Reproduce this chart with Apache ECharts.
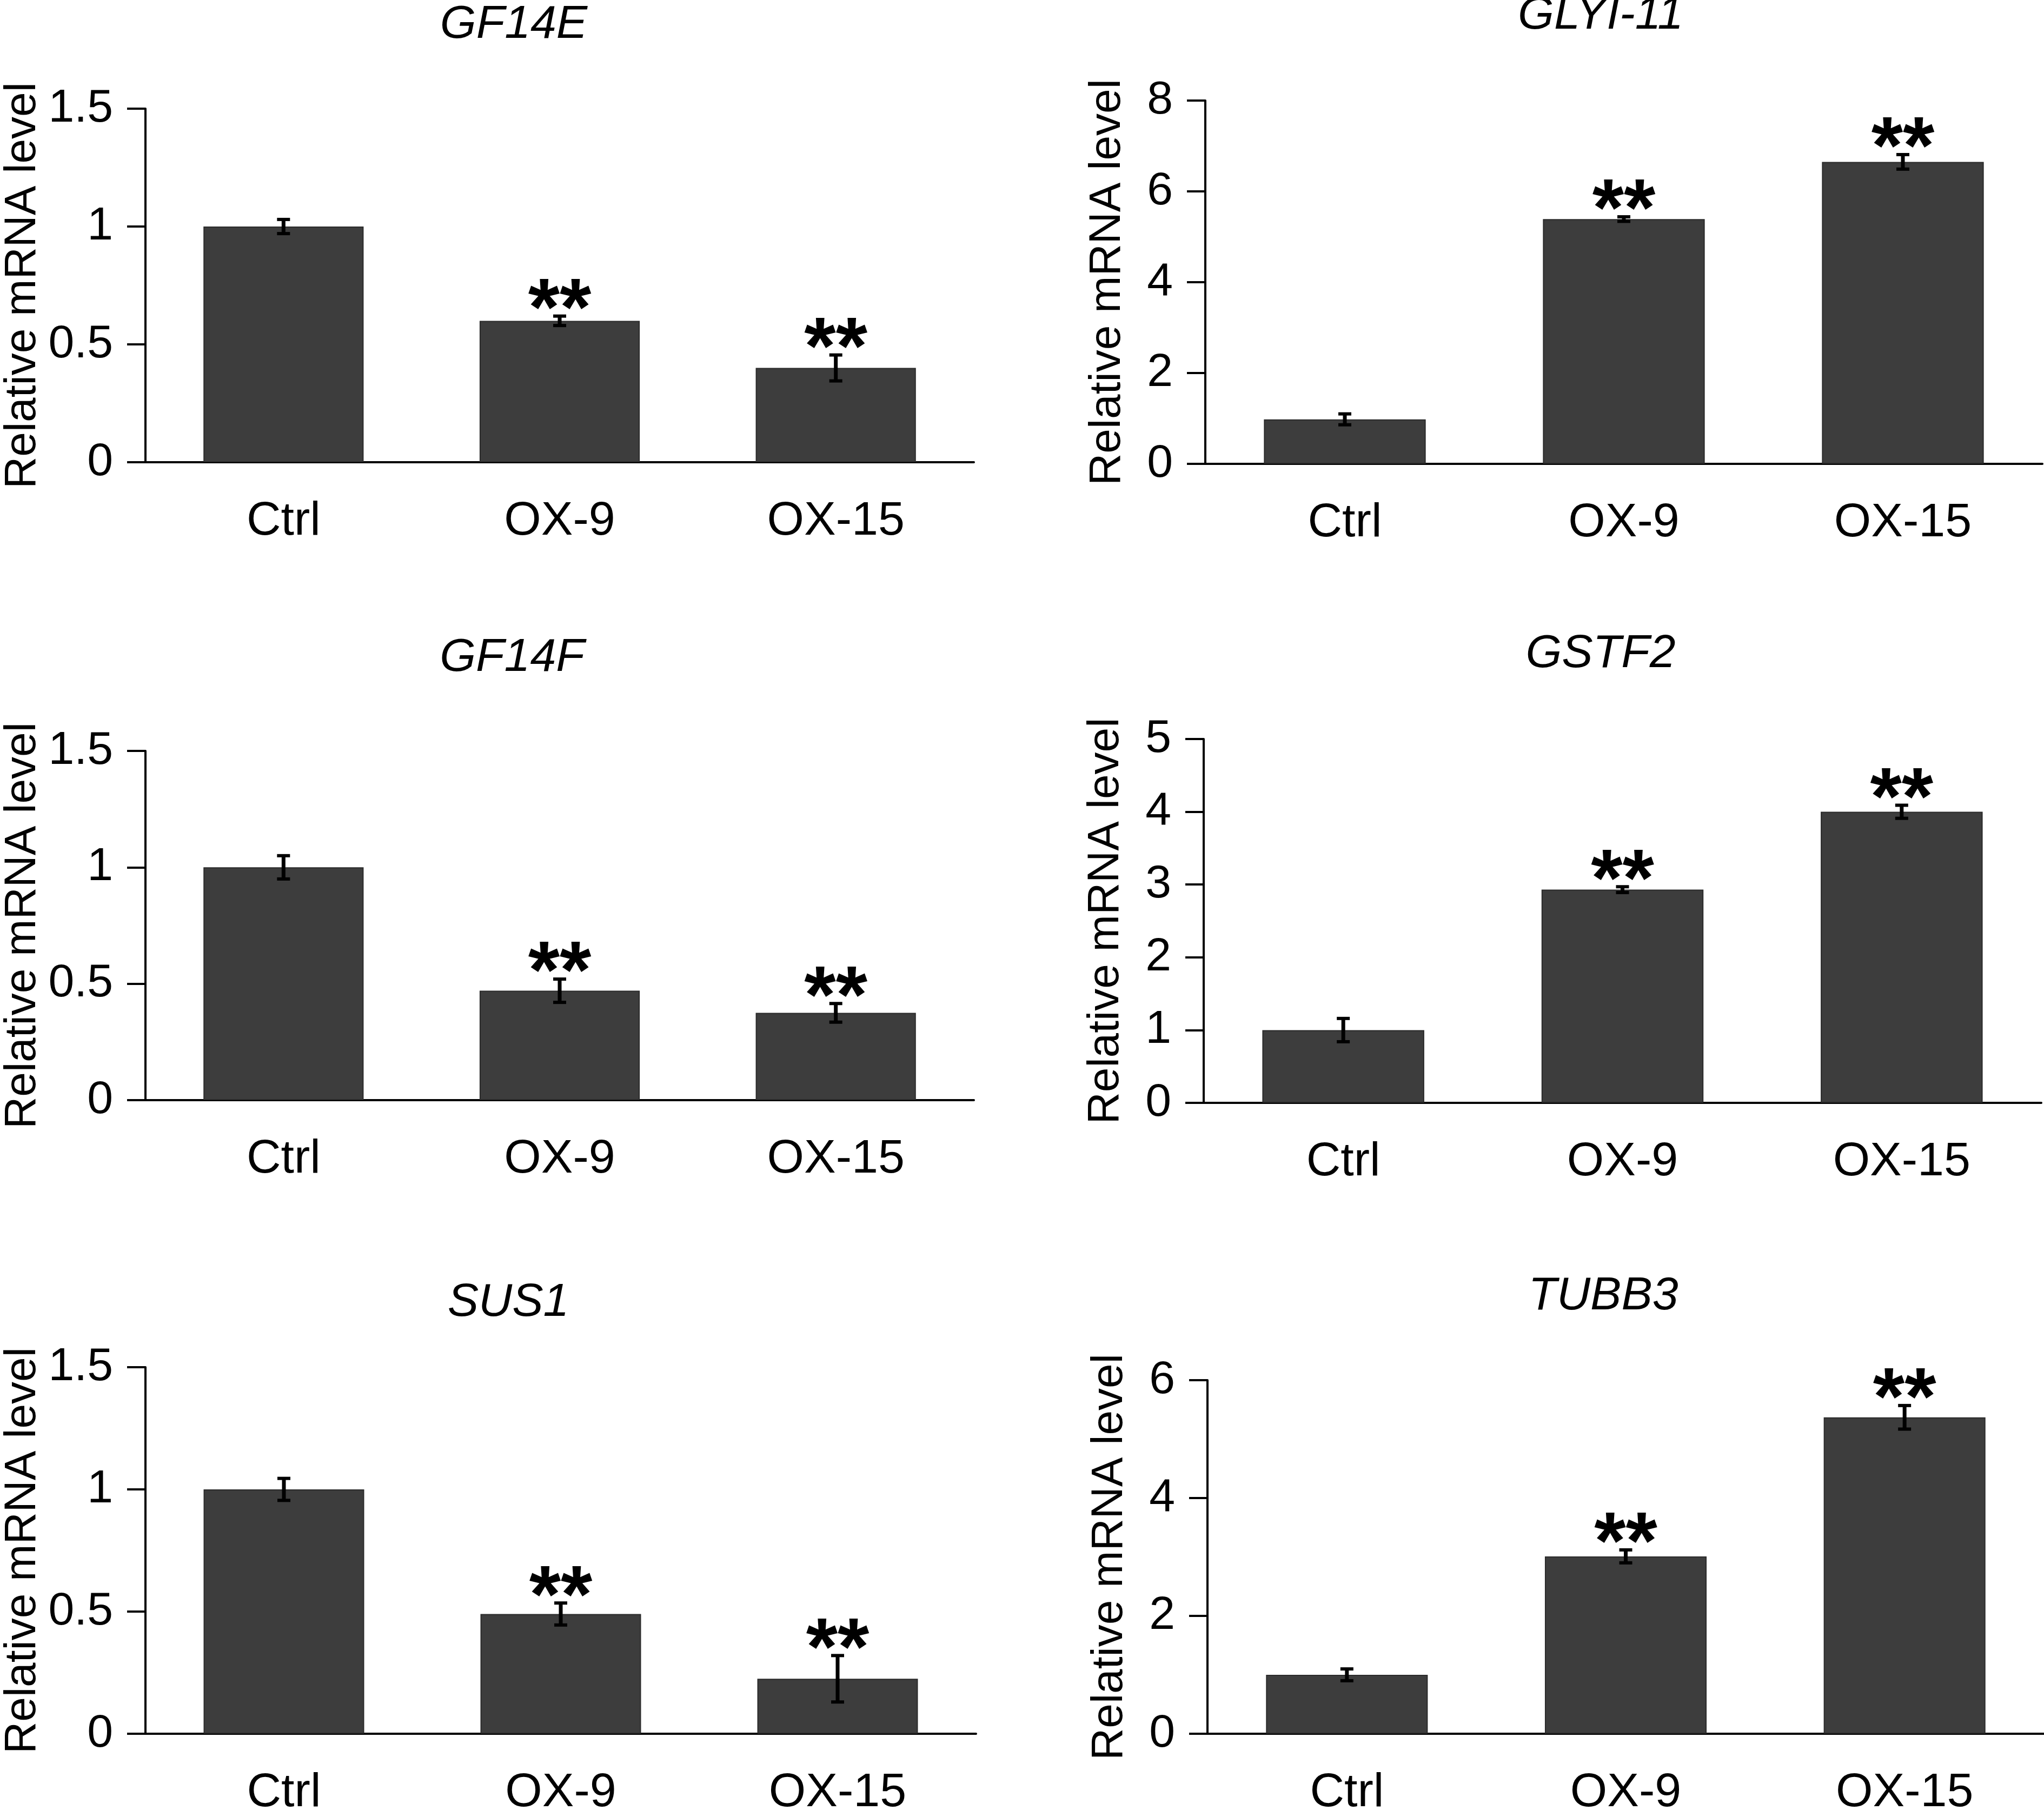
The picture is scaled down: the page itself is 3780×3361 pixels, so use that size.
<!DOCTYPE html>
<html>
<head>
<meta charset="utf-8">
<script src="https://cdn.jsdelivr.net/npm/echarts@6/dist/echarts.min.js"></script>
<style>
  html, body { margin: 0; padding: 0; background: #fff; }
  #main { width: 3780px; height: 3361px; }
</style>
</head>
<body>
<div id="main"></div>
<script>
// data
var categories = ['Ctrl', 'OX-9', 'OX-15'];
var genes = ['GF14E', 'GLYI-11', 'GF14F', 'GSTF2', 'SUS1', 'TUBB3'];
var marks = ['', '**', '**'];

var gf14eMean = [1.0, 0.60, 0.40];
var gf14eErr = [0.03, 0.02, 0.055];
var glyiMean = [0.98, 5.39, 6.65];
var glyiErr = [0.12, 0.05, 0.16];
var gf14fMean = [1.0, 0.47, 0.375];
var gf14fErr = [0.05, 0.05, 0.04];
var gstf2Mean = [1.0, 2.93, 4.0];
var gstf2Err = [0.16, 0.04, 0.09];
var sus1Mean = [1.0, 0.49, 0.225];
var sus1Err = [0.045, 0.045, 0.095];
var tubb3Mean = [1.0, 3.01, 5.37];
var tubb3Err = [0.1, 0.11, 0.2];

var yMax = [1.5, 8, 1.5, 5, 1.5, 6];
var yStep = [0.5, 2, 0.5, 1, 0.5, 2];

var means = [gf14eMean, glyiMean, gf14fMean, gstf2Mean, sus1Mean, tubb3Mean];
var errs = [gf14eErr, glyiErr, gf14fErr, gstf2Err, sus1Err, tubb3Err];

var chartDom = document.getElementById('main');
var myChart = echarts.init(chartDom);

// panel boxes: [left, top, right, bottom] in px
var boxes = [
  [246, 201, 1801, 855],
  [2229, 186, 3777, 858],
  [248, 1389, 1801, 2035],
  [2226, 1367, 3775, 2040],
  [248, 2529, 1805, 3223],
  [2233, 2553, 3780, 3223]
];
var nameGaps = [186, 140, 186, 140, 186, 140];
var titlePos = [[950, 46], [2960, 29], [947, 1217], [2960, 1210], [940, 2410], [2965, 2398]];

var fontFam = '"Liberation Sans", Arial, sans-serif';

var grids = [], xAxes = [], yAxes = [], series = [], graphics = [];

function errorRenderer(params, api) {
  var idx = api.value(0);
  var m = api.value(1);
  var e = api.value(2);
  var top = api.coord([idx, m + e]);
  var bot = api.coord([idx, m - e]);
  var hw = 12;
  var stem = { stroke: '#000', lineWidth: 7 };
  var cap = { stroke: '#000', lineWidth: 6 };
  var children = [
    { type: 'line', shape: { x1: top[0], y1: top[1], x2: bot[0], y2: bot[1] }, style: stem },
    { type: 'line', shape: { x1: top[0] - hw, y1: top[1], x2: top[0] + hw, y2: top[1] }, style: cap },
    { type: 'line', shape: { x1: bot[0] - hw, y1: bot[1], x2: bot[0] + hw, y2: bot[1] }, style: cap }
  ];
  var mk = marks[idx];
  if (mk) {
    children.push({
      type: 'text',
      style: {
        text: mk,
        x: top[0],
        y: top[1] - 6,
        align: 'center',
        verticalAlign: 'middle',
        font: 'bold 150px ' + fontFam,
        fill: '#000'
      }
    });
  }
  return { type: 'group', children: children };
}

for (var p = 0; p < genes.length; p++) {
  var b = boxes[p];
  grids.push({ left: b[0], top: b[1], width: b[2] - b[0], height: b[3] - b[1] });
  xAxes.push({
    type: 'category',
    gridIndex: p,
    data: categories,
    axisLine: { lineStyle: { color: '#000', width: 4 } },
    axisTick: { show: false },
    axisLabel: { color: '#000', fontSize: 88, fontFamily: fontFam, margin: 66 }
  });
  yAxes.push({
    type: 'value',
    gridIndex: p,
    min: 0,
    max: yMax[p],
    interval: yStep[p],
    name: 'Relative mRNA level',
    nameLocation: 'middle',
    nameGap: nameGaps[p],
    nameTextStyle: { color: '#000', fontSize: 82, fontFamily: fontFam },
    axisLine: { show: true, lineStyle: { color: '#000', width: 4 } },
    axisTick: { show: true, length: 34, lineStyle: { color: '#000', width: 4 } },
    axisLabel: { color: '#000', fontSize: 86, fontFamily: fontFam, margin: 60 },
    splitLine: { show: false }
  });
  series.push({
    type: 'bar',
    xAxisIndex: p,
    yAxisIndex: p,
    data: means[p],
    barWidth: '58%',
    itemStyle: { color: '#3d3d3d', borderColor: '#2b2b2b', borderWidth: 2 },
    animation: false
  });
  var errData = [];
  for (var i = 0; i < categories.length; i++) {
    errData.push([i, means[p][i], errs[p][i]]);
  }
  series.push({
    type: 'custom',
    xAxisIndex: p,
    yAxisIndex: p,
    data: errData,
    encode: { x: 0, y: 1 },
    renderItem: errorRenderer,
    z: 5,
    animation: false
  });
  graphics.push({
    type: 'text',
    x: titlePos[p][0],
    y: titlePos[p][1],
    style: {
      text: genes[p],
      align: 'center',
      verticalAlign: 'middle',
      font: 'italic 86px ' + fontFam,
      fill: '#000'
    }
  });
}

var optionChart = {
  backgroundColor: '#fff',
  animation: false,
  grid: grids,
  xAxis: xAxes,
  yAxis: yAxes,
  series: series,
  graphic: graphics
};

optionChart && myChart.setOption(optionChart);
</script>
</body>
</html>
